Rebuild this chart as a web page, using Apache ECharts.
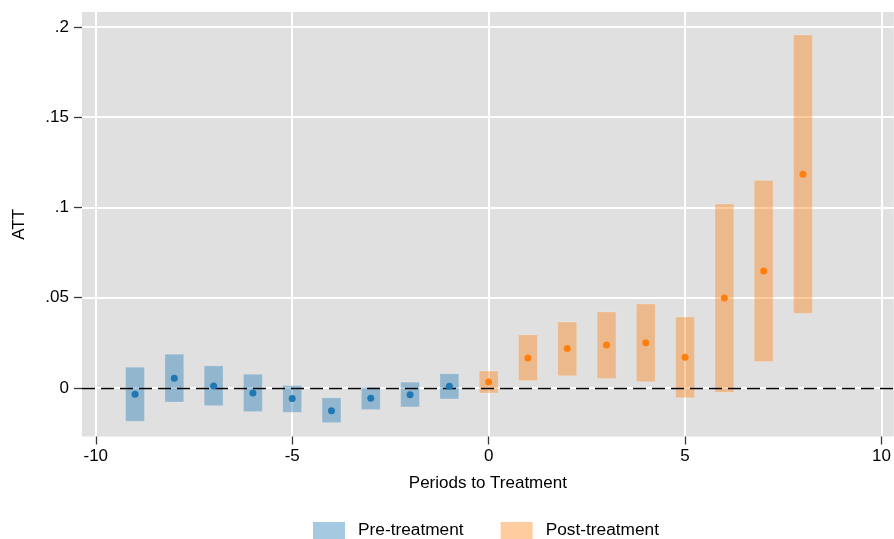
<!DOCTYPE html>
<html>
<head>
<meta charset="utf-8">
<script src="https://cdn.jsdelivr.net/npm/echarts@6/dist/echarts.min.js"></script>
<style>
  html, body { margin: 0; padding: 0; background: #fff; }
  #chart { width: 894px; height: 539px; }
</style>
</head>
<body>
<div id="chart"></div>
<script>
// event-time periods
const prePeriods = [-9, -8, -7, -6, -5, -4, -3, -2, -1]
const postPeriods = [0, 1, 2, 3, 4, 5, 6, 7, 8]

// ATT point estimates
const preAtt = [-0.0035, 0.0054, 0.0011, -0.0028, -0.0059, -0.0126, -0.0057, -0.0037, 0.0009]
const postAtt = [0.0033, 0.0166, 0.0218, 0.0238, 0.0251, 0.017, 0.0499, 0.0648, 0.1184]

// confidence interval bounds
const preLow = [-0.0184, -0.0078, -0.0098, -0.0131, -0.0135, -0.0192, -0.012, -0.0105, -0.0061]
const preHigh = [0.0115, 0.0187, 0.0122, 0.0076, 0.0013, -0.0055, 0.0004, 0.0032, 0.0078]
const postLow = [-0.0028, 0.0041, 0.0068, 0.0052, 0.0035, -0.0054, -0.0024, 0.0146, 0.0414]
const postHigh = [0.0094, 0.0294, 0.0366, 0.0421, 0.0465, 0.0393, 0.1019, 0.115, 0.1956]

// tick labels
const xTicks = [-10, -5, 0, 5, 10]
const yTicks = [0, 0.05, 0.1, 0.15, 0.2]

const fontFamily = '"Liberation Sans", Arial, sans-serif'

function ciRows(periods, low, high) {
  return periods.map((p, i) => [p, low[i], high[i]])
}
function pointRows(periods, att) {
  return periods.map((p, i) => [p, att[i]])
}

// vertical CI band drawn as a rect
function renderBand(params, api) {
  const lo = api.coord([api.value(0), api.value(1)])
  const hi = api.coord([api.value(0), api.value(2)])
  const w = api.size([0.48, 0])[0]
  return {
    type: 'rect',
    shape: { x: lo[0] - w / 2, y: hi[1], width: w, height: lo[1] - hi[1] },
    style: {
      fill: api.visual('color'),
      stroke: 'rgba(255,255,255,0.18)',
      lineWidth: 1
    }
  }
}

const chart = echarts.init(document.getElementById('chart'))

const tickStyle = { show: true, length: 8, lineStyle: { color: '#3a3a3a', width: 1.3 } }

const options = {
  animation: false,
  textStyle: { fontFamily: fontFamily },
  grid: {
    left: 82,
    right: 0,
    top: 12,
    bottom: 102.5,
    show: true,
    backgroundColor: '#e0e0e0',
    borderWidth: 0
  },
  legend: {
    data: ['Pre-treatment', 'Post-treatment'],
    left: 313,
    top: 522,
    padding: 0,
    icon: 'rect',
    itemWidth: 32,
    itemHeight: 17,
    itemGap: 37,
    textStyle: { fontSize: 17.3, color: '#000', fontFamily: fontFamily, padding: [0, 0, 0, 8] }
  },
  xAxis: {
    type: 'value',
    min: -10.35,
    max: 10.31,
    name: 'Periods to Treatment',
    nameLocation: 'middle',
    nameGap: 38,
    nameTextStyle: { fontSize: 17, color: '#000' },
    axisLine: { show: false, onZero: false },
    axisTick: Object.assign({ customValues: xTicks }, tickStyle),
    axisLabel: { customValues: xTicks, fontSize: 17, color: '#000', margin: 11 },
    splitLine: { show: true, lineStyle: { color: '#ffffff', width: 2 } }
  },
  yAxis: {
    type: 'value',
    min: -0.0269,
    max: 0.2083,
    name: 'ATT',
    nameLocation: 'middle',
    nameGap: 54,
    nameTextStyle: { fontSize: 17, color: '#000' },
    axisLine: { show: false, onZero: false },
    axisTick: Object.assign({ customValues: yTicks }, tickStyle),
    axisLabel: {
      customValues: yTicks,
      fontSize: 17,
      color: '#000',
      margin: 13,
      formatter: v => (v === 0 ? '0' : String(v).replace(/^0\./, '.'))
    },
    splitLine: { show: true, lineStyle: { color: '#ffffff', width: 2 } }
  },
  series: [
    {
      name: 'Pre-treatment',
      type: 'custom',
      renderItem: renderBand,
      itemStyle: { color: 'rgba(31,119,180,0.4)' },
      encode: { x: 0, y: [1, 2] },
      data: ciRows(prePeriods, preLow, preHigh),
      z: 2
    },
    {
      name: 'Post-treatment',
      type: 'custom',
      renderItem: renderBand,
      itemStyle: { color: 'rgba(255,127,14,0.4)' },
      encode: { x: 0, y: [1, 2] },
      data: ciRows(postPeriods, postLow, postHigh),
      z: 2
    },
    {
      name: 'pre-att',
      type: 'scatter',
      symbolSize: 7,
      itemStyle: { color: '#1f77b4', opacity: 1 },
      data: pointRows(prePeriods, preAtt),
      z: 4
    },
    {
      name: 'post-att',
      type: 'scatter',
      symbolSize: 7,
      itemStyle: { color: '#ff7f0e', opacity: 1 },
      data: pointRows(postPeriods, postAtt),
      z: 4,
      // zero reference line
      markLine: {
        silent: true,
        symbol: 'none',
        z: 3,
        label: { show: false },
        lineStyle: { color: '#000', width: 1.4, type: [13, 6] },
        data: [{ yAxis: 0 }]
      }
    }
  ]
}

chart.setOption(options)
</script>
</body>
</html>
